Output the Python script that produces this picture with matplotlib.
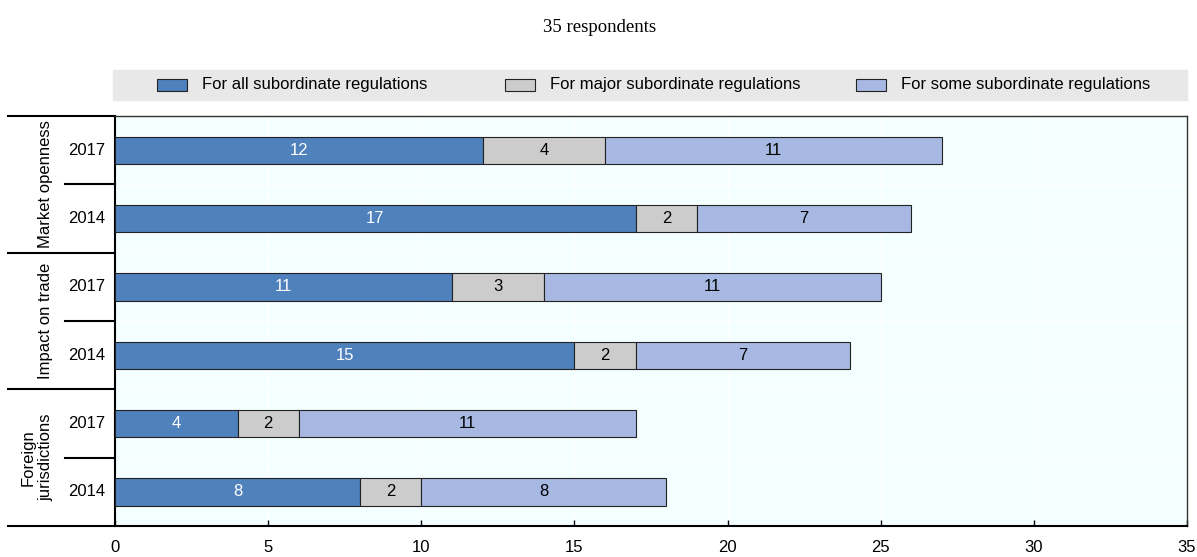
import numpy as np
import matplotlib
matplotlib.use("Agg")
import matplotlib.pyplot as plt
from matplotlib.font_manager import fontManager

# --- dati ---
gruppi = ["Market openness", "Impact on trade", "Foreign\njurisdictions"]
anni = ["2017", "2014"]
serie = ["For all subordinate regulations",
         "For major subordinate regulations",
         "For some subordinate regulations"]
tutte = [12, 17, 11, 15, 4, 8]
principali = [4, 2, 3, 2, 2, 2]
alcune = [11, 7, 11, 7, 11, 8]
xticks = [0, 5, 10, 15, 20, 25, 30, 35]

colori = ["#4F81BD", "#CCCCCC", "#A7B9E3"]

nomi_font = {f.name for f in fontManager.ttflist}
fam = "Liberation Sans Narrow" if "Liberation Sans Narrow" in nomi_font else "Liberation Sans"
plt.rcParams["font.family"] = [fam, "DejaVu Sans"]
fs = 12

W, H = 1197, 557
fig = plt.figure(figsize=(W / 100, H / 100), dpi=100)
ax = fig.add_axes([115 / W, 1 - 526 / H, (1187 - 115) / W, (526 - 116) / H])
ax.set_facecolor("#F4FFFF")

n = len(tutte)
y = np.arange(n)
valori = [tutte, principali, alcune]
sinistra = np.zeros(n)
for k, v in enumerate(valori):
    v = np.array(v)
    ax.barh(y, v, left=sinistra, height=0.4, color=colori[k],
            edgecolor="#222222", linewidth=0.8, zorder=3)
    for i in range(n):
        ax.text(sinistra[i] + v[i] / 2, y[i], str(v[i]), ha="center", va="center",
                fontsize=fs, color="white" if k == 0 else "black", zorder=4)
    sinistra += v

ax.set_xlim(0, 35)
ax.set_ylim(n - 0.5, -0.5)
ax.set_xticks(xticks)
ax.set_xticklabels([str(t) for t in xticks], fontsize=fs)
ax.tick_params(axis="x", length=4, width=1, direction="in", pad=10)
ax.set_yticks([])
for xv in xticks[1:-1]:
    ax.axvline(xv, color="white", lw=1, zorder=1)
for yv in np.arange(0.5, n - 0.5, 1):
    ax.axhline(yv, color="white", lw=1, zorder=1)

for s in ["top", "right"]:
    ax.spines[s].set_color("#333333")
    ax.spines[s].set_linewidth(1)
for s in ["left", "bottom"]:
    ax.spines[s].set_color("black")
    ax.spines[s].set_linewidth(1.5)

# etichette asse y (anni + gruppi)
trans = ax.get_yaxis_transform()
larg = 1187 - 115
for i in range(n):
    ax.text(-10 / larg, y[i], anni[i % 2], transform=trans, ha="right", va="center",
            fontsize=fs)
x_in = -(115 - 65) / larg
x_out = -(115 - 8) / larg
for i in range(n + 1):
    x0 = x_out if i % 2 == 0 else x_in
    ax.plot([x0, 0], [i - 0.5, i - 0.5], transform=trans, color="black", lw=1.5,
            clip_on=False)
for g, nome in enumerate(gruppi):
    xc = 45 if "\n" not in nome else 37
    ax.text(-(115 - xc) / larg, 2 * g + 0.5, nome, transform=trans, rotation=90,
            ha="center", va="center", fontsize=fs, linespacing=1.15)

# legenda
fig.patches.append(plt.Rectangle((113 / W, 1 - 100 / H), (1187 - 113) / W, 30 / H,
                                 transform=fig.transFigure, color="#E8E8E8", zorder=0))
pos_leg = [157, 505, 856]
for k, nome in enumerate(serie):
    fig.patches.append(plt.Rectangle((pos_leg[k] / W, 1 - 91 / H), 30 / W, 12 / H,
                                     transform=fig.transFigure, facecolor=colori[k],
                                     edgecolor="#222222", lw=0.8))
    fig.text((pos_leg[k] + 45) / W, 1 - 85 / H, nome, ha="left", va="center",
             fontsize=fs)

fig.text(600 / W, 1 - 27 / H, "35 respondents", ha="center", va="center",
         fontsize=13.5, family=["Liberation Serif", "DejaVu Serif"])

fig.savefig("out.png", dpi=100)
